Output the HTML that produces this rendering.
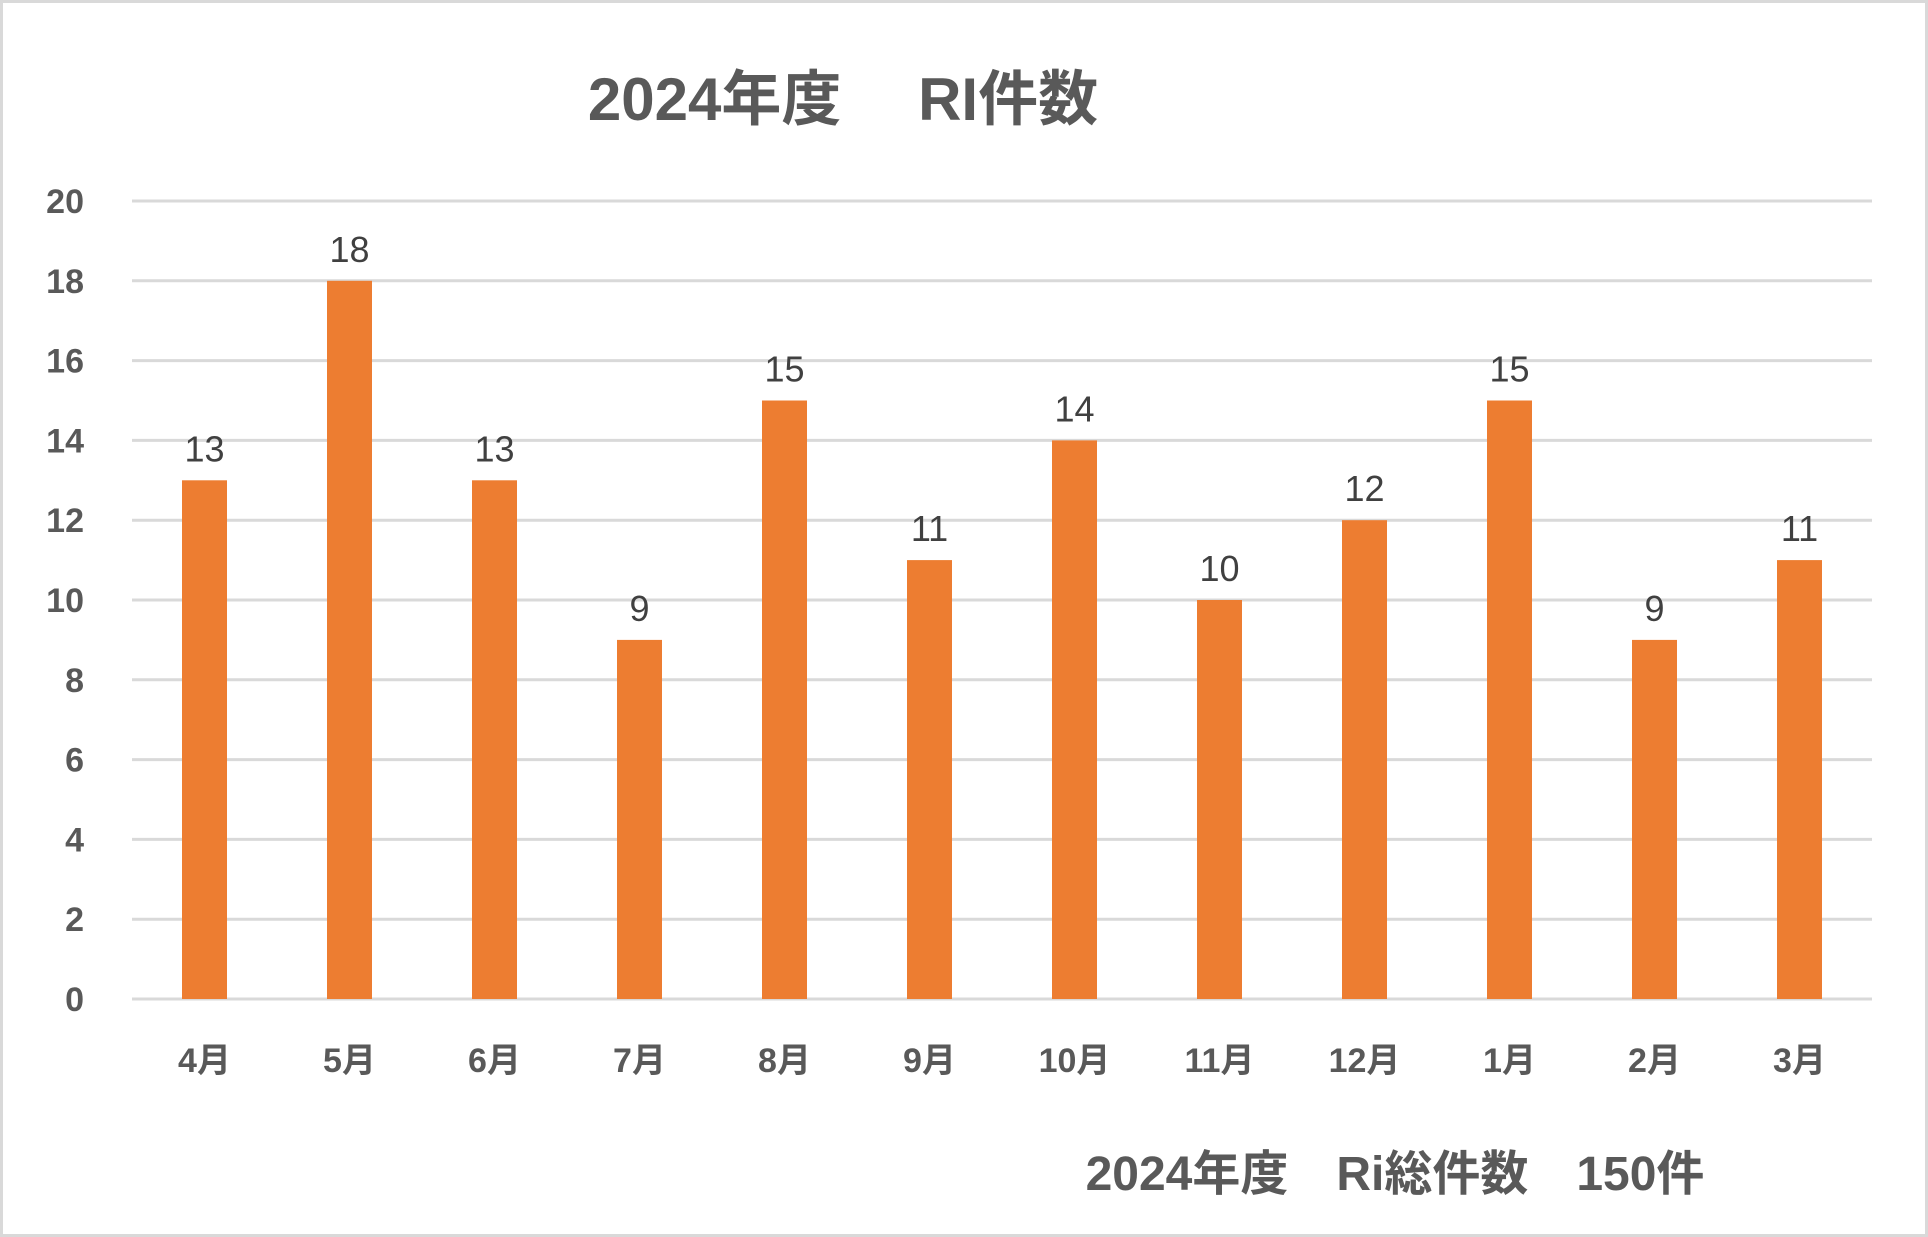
<!DOCTYPE html>
<html><head><meta charset="utf-8"><style>
html,body{margin:0;padding:0;background:#fff;}
svg{display:block;}
text{font-family:"Liberation Sans","Noto Sans CJK JP",sans-serif;}
</style></head><body>
<svg id="chart" width="1928" height="1237" viewBox="0 0 1928 1237">
<rect x="1.5" y="1.5" width="1925" height="1234" fill="#fff" stroke="#d9d9d9" stroke-width="3"/>
<text x="843" y="120" text-anchor="middle" font-size="60" font-weight="bold" fill="#595959">2024年度　 RI件数</text>
<g id="grid"></g><g id="yticks"></g><g id="bars"></g><g id="labels"></g><g id="xticks"></g>
<text x="1395" y="1190" text-anchor="middle" font-size="48" font-weight="bold" fill="#595959">2024年度　Ri総件数　150件</text>
</svg>
<script>
const categories=["4月","5月","6月","7月","8月","9月","10月","11月","12月","1月","2月","3月"];
const values=[13,18,13,9,15,11,14,10,12,15,9,11];
const yTicks=[0,2,4,6,8,10,12,14,16,18,20];
const NS="http://www.w3.org/2000/svg";
const x0=132,x1=1872,yTop=201,yBot=999,yMax=20;
const band=(x1-x0)/categories.length;
const y=v=>yBot-(v/yMax)*(yBot-yTop);
const xc=i=>x0+band*(i+0.5);
function mk(tag,attrs,parent,txt){const e=document.createElementNS(NS,tag);for(const k in attrs)e.setAttribute(k,attrs[k]);if(txt!==undefined)e.textContent=txt;document.getElementById(parent).appendChild(e);return e;}
yTicks.forEach(t=>{
 const l=mk('line',{x1:x0,x2:x1,y1:y(t),y2:y(t),stroke:'#d9d9d9','stroke-width':3},'grid');
 
 
 const tx=mk('text',{x:84,y:y(t)+12,'text-anchor':'end','font-size':34,'font-weight':'bold',fill:'#595959'},'yticks',String(t));
 
 
});
const bw=45;
values.forEach((v,i)=>{
 const r=mk('rect',{x:xc(i)-bw/2,y:y(v),width:bw,height:yBot-y(v),fill:'#ed7d31'},'bars');
 
 
 const t=mk('text',{x:xc(i),y:y(v)-19,'text-anchor':'middle','font-size':36,fill:'#404040'},'labels',String(v));
 
 
 const c=mk('text',{x:xc(i),y:1072,'text-anchor':'middle','font-size':34,'font-weight':'bold',fill:'#595959'},'xticks',categories[i]);
 
 
});
</script>
</body></html>
